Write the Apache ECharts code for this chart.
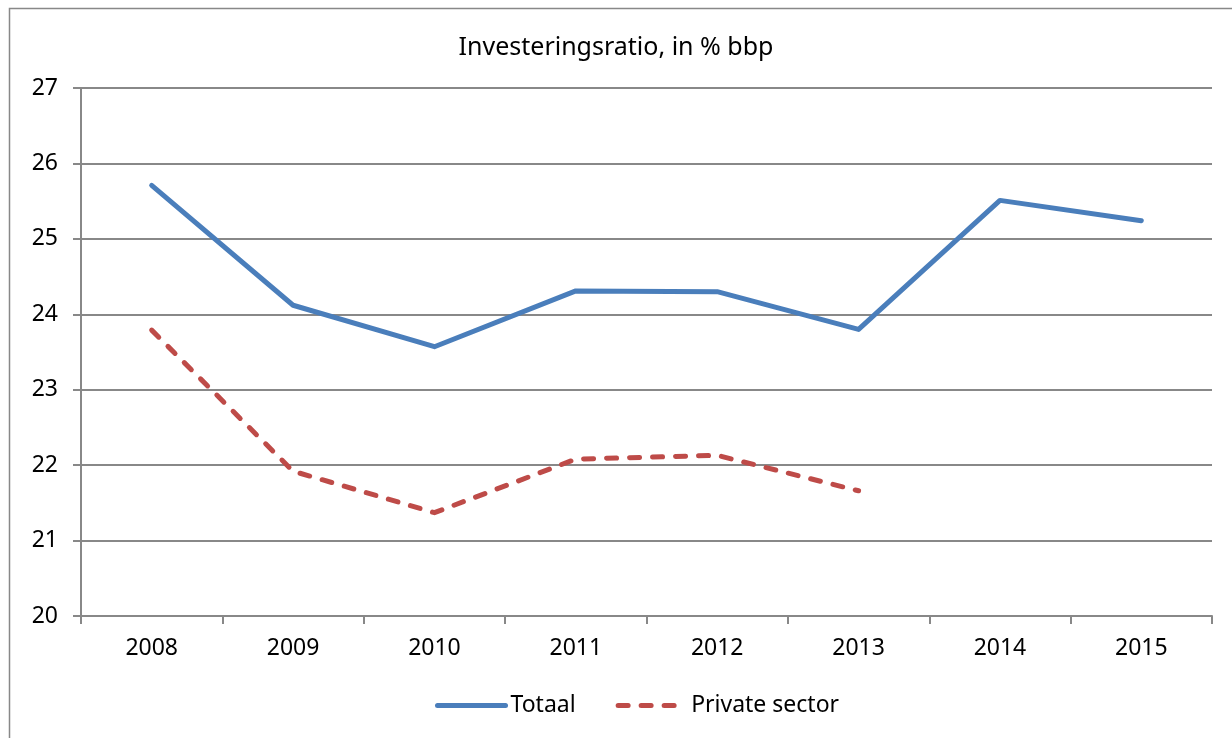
<!DOCTYPE html>
<html>
<head>
<meta charset="utf-8">
<title>Investeringsratio</title>
<script src="https://cdn.jsdelivr.net/npm/echarts@6/dist/echarts.min.js"></script>
<style>
  html, body { margin: 0; padding: 0; background: #fff; }
  #chart { width: 1232px; height: 738px; }
</style>
</head>
<body>
<div id="chart"></div>
<script>
// data
var years = ["2008", "2009", "2010", "2011", "2012", "2013", "2014", "2015"];
var totaal = [25.71, 24.12, 23.57, 24.31, 24.30, 23.80, 25.51, 25.24];
var privateSector = [23.79, 21.92, 21.37, 22.08, 22.13, 21.66, null, null];
var yTicks = [20, 21, 22, 23, 24, 25, 26, 27];

var fontFamily = "Noto Sans";
var gray = "#888888";

var myChart = echarts.init(document.getElementById("chart"));
myChart.setOption({
  backgroundColor: "#ffffff",
  animation: false,
  title: {
    text: "Investeringsratio, in % bbp",
    left: "center",
    top: 30,
    textStyle: {
      fontFamily: fontFamily,
      fontSize: 25,
      fontWeight: "normal",
      color: "#000"
    }
  },
  graphic: [
    {
      // outer chart border
      type: "rect",
      shape: { x: 9.5, y: 8.5, width: 1240, height: 760 },
      style: { fill: null, stroke: gray, lineWidth: 1.5 },
      silent: true
    }
  ],
  legend: {
    bottom: 16,
    left: 430,
    itemWidth: 68,
    itemHeight: 14,
    itemGap: 40,
    itemStyle: { opacity: 0 },
    lineStyle: { width: 5, cap: "round" },
    textStyle: { fontFamily: fontFamily, fontSize: 23, color: "#000" },
    data: ["Totaal", "Private sector"]
  },
  grid: {
    left: 81,
    right: 20,
    top: 88,
    bottom: 122,
    containLabel: false
  },
  xAxis: {
    type: "category",
    boundaryGap: true,
    data: years,
    axisLine: { show: true, lineStyle: { color: gray, width: 2 } },
    axisTick: { show: true, alignWithLabel: false, length: 8, lineStyle: { color: gray, width: 2 } },
    axisLabel: {
      margin: 21,
      fontFamily: fontFamily,
      fontSize: 23,
      color: "#000"
    },
    splitLine: { show: false }
  },
  yAxis: {
    type: "value",
    min: yTicks[0],
    max: yTicks[yTicks.length - 1],
    interval: 1,
    axisLine: { show: true, lineStyle: { color: gray, width: 2 } },
    axisTick: { show: true, length: 8, lineStyle: { color: gray, width: 2 } },
    axisLabel: {
      margin: 23,
      fontFamily: fontFamily,
      fontSize: 23,
      color: "#000"
    },
    splitLine: { show: true, lineStyle: { color: gray, width: 2 } }
  },
  series: [
    {
      name: "Totaal",
      type: "line",
      data: totaal,
      symbol: "none",
      lineStyle: { color: "#4a7ebb", width: 5, cap: "round", join: "round" },
      itemStyle: { color: "#4a7ebb" }
    },
    {
      name: "Private sector",
      type: "line",
      data: privateSector,
      symbol: "none",
      lineStyle: { color: "#be4b48", width: 5, type: [10, 13], cap: "round", join: "round" },
      itemStyle: { color: "#be4b48" }
    }
  ]
});
</script>
</body>
</html>
